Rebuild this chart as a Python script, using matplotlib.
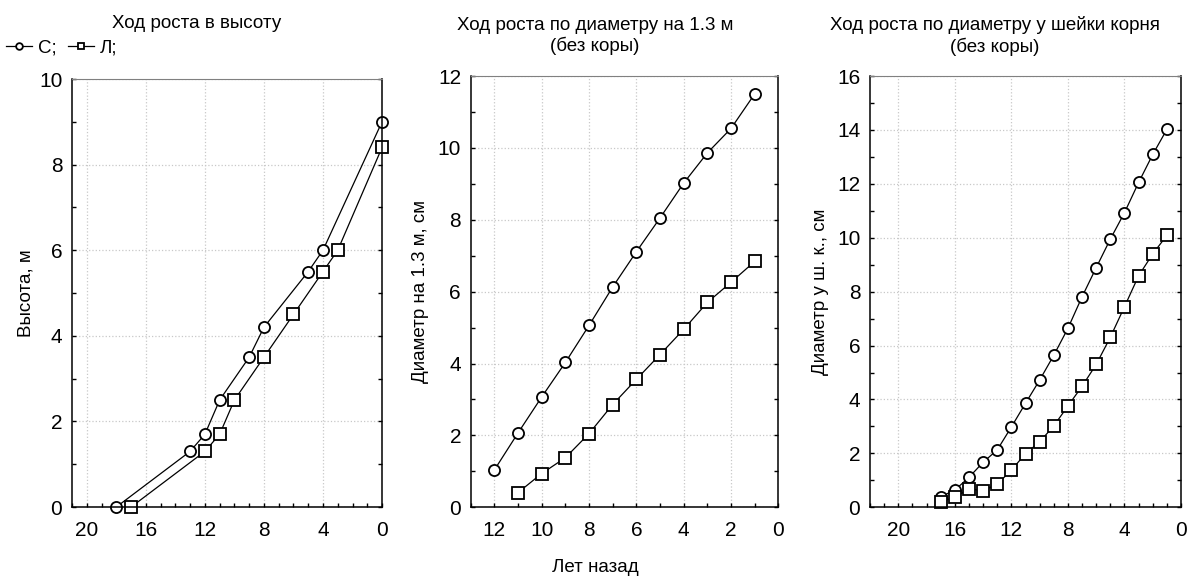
import matplotlib.pyplot as plt
from matplotlib.ticker import MultipleLocator

plt.rcParams['font.family'] = ['Liberation Sans', 'DejaVu Sans']

# Height growth (years ago, height m)
h_years_c = [18, 13, 12, 11, 9, 8, 5, 4, 0]
h_vals_c = [0, 1.3, 1.7, 2.5, 3.5, 4.2, 5.5, 6.0, 9.0]
h_years_l = [17, 12, 11, 10, 8, 6, 4, 3, 0]
h_vals_l = [0, 1.3, 1.7, 2.5, 3.5, 4.5, 5.5, 6.0, 8.4]

# Diameter at 1.3 m
d_years_c = [12, 11, 10, 9, 8, 7, 6, 5, 4, 3, 2, 1]
d_vals_c = [1.04, 2.07, 3.07, 4.03, 5.06, 6.13, 7.11, 8.05, 9.02, 9.86, 10.54, 11.5]
d_years_l = [11, 10, 9, 8, 7, 6, 5, 4, 3, 2, 1]
d_vals_l = [0.41, 0.94, 1.38, 2.05, 2.86, 3.56, 4.25, 4.95, 5.70, 6.26, 6.84]

# Diameter at root collar
r_years = [17, 16, 15, 14, 13, 12, 11, 10, 9, 8, 7, 6, 5, 4, 3, 2, 1]
r_vals_c = [0.39, 0.64, 1.11, 1.67, 2.13, 2.98, 3.86, 4.72, 5.64, 6.64, 7.81,
            8.89, 9.95, 10.93, 12.05, 13.09, 14.02]
r_vals_l = [0.21, 0.37, 0.68, 0.62, 0.86, 1.38, 1.99, 2.43, 3.02, 3.76, 4.49,
            5.30, 6.31, 7.44, 8.59, 9.40, 10.09]

W, H = 1189, 578
fig = plt.figure(figsize=(W / 100, H / 100), dpi=100)

ax1 = fig.add_axes([0.0606, 0.1228, 0.2607, 0.7405])
ax2 = fig.add_axes([0.3959, 0.1223, 0.2587, 0.7462])
ax3 = fig.add_axes([0.7317, 0.1223, 0.2616, 0.7462])

FS = 13.5
line_kw = dict(color='black', lw=0.9, markersize=8, markeredgewidth=1.3,
               markerfacecolor='white', markeredgecolor='black')


def style(ax, xmax, ymax, xmajor, ymajor):
    ax.set_xlim(xmax, 0)
    ax.set_ylim(0, ymax)
    ax.xaxis.set_major_locator(MultipleLocator(xmajor))
    ax.xaxis.set_minor_locator(MultipleLocator(1))
    ax.yaxis.set_major_locator(MultipleLocator(ymajor))
    ax.yaxis.set_minor_locator(MultipleLocator(1))
    ax.tick_params(which='both', direction='in', length=3, width=1,
                   labelsize=15, right=True, top=False, pad=7)
    ax.tick_params(axis='x', which='both', pad=10)
    ax.grid(True, which='major', color='#c8c8c8', linestyle=':', lw=0.9)
    ax.spines['top'].set_color('#808080')
    for s in ['left', 'bottom', 'right']:
        ax.spines[s].set_linewidth(1.1)


ax1.plot(h_years_c, h_vals_c, marker='o', label='С;', clip_on=False, **line_kw)
ax1.plot(h_years_l, h_vals_l, marker='s', label='Л;', clip_on=False, **line_kw)
style(ax1, 21, 10, 4, 2)
ax1.set_ylabel('Высота, м', fontsize=FS, labelpad=3)

ax2.plot(d_years_c, d_vals_c, marker='o', clip_on=False, **line_kw)
ax2.plot(d_years_l, d_vals_l, marker='s', clip_on=False, **line_kw)
style(ax2, 13, 12, 2, 2)
ax2.set_ylabel('Диаметр на 1.3 м, см', fontsize=FS, labelpad=6)

ax3.plot(r_years, r_vals_c, marker='o', clip_on=False, **line_kw)
ax3.plot(r_years, r_vals_l, marker='s', clip_on=False, **line_kw)
style(ax3, 22, 16, 4, 2)
ax3.set_ylabel('Диаметр у ш. к., см', fontsize=FS, labelpad=6)

fig.text(197 / W, 1 - 24 / H, 'Ход роста в высоту', fontsize=FS,
         ha='center', va='center')
fig.text(595 / W, 1 - 36 / H, 'Ход роста по диаметру на 1.3 м\n(без коры)',
         fontsize=FS, ha='center', va='center', linespacing=1.2)
fig.text(995 / W, 1 - 36 / H, 'Ход роста по диаметру у шейки корня\n(без коры)',
         fontsize=FS, ha='center', va='center', linespacing=1.2)
fig.text(595 / W, 1 - 567 / H, 'Лет назад', fontsize=FS,
         ha='center', va='center')

handles, labels = ax1.get_legend_handles_labels()
fig.legend(handles, labels, loc='center left', bbox_to_anchor=(-0.006, 1 - 48 / H),
           ncol=2, frameon=False, fontsize=FS, handlelength=1.4,
           handletextpad=0.3, columnspacing=0.6, markerscale=0.6,
           borderpad=0.2)

fig.savefig('out.png', dpi=100)
